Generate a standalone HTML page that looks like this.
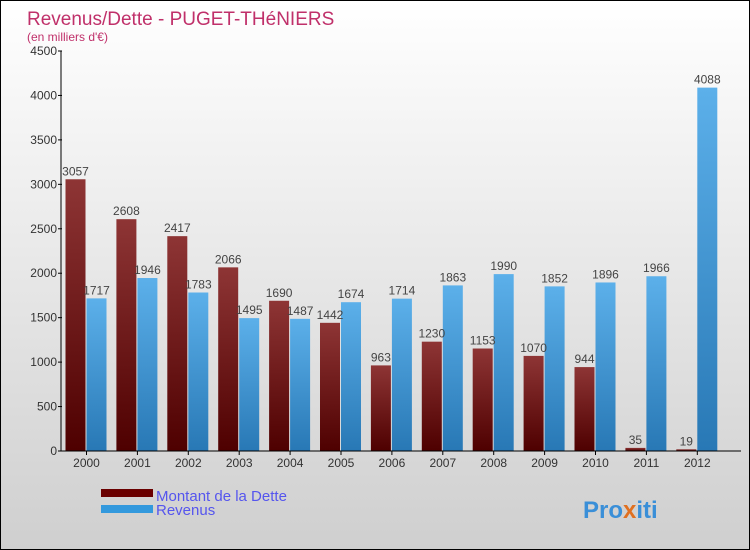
<!DOCTYPE html>
<html><head><meta charset="utf-8"><style>
body{margin:0}
#c{width:750px;height:550px;position:relative;box-sizing:border-box;border:1px solid #000;background:linear-gradient(#fff,#cfcfcf);font-family:"Liberation Sans",sans-serif;overflow:hidden}
</style></head><body>
<div id="c">
<svg id="s" width="750" height="550" style="position:absolute;left:0;top:0">
<defs>
<linearGradient id="gd" x1="0" y1="0" x2="0" y2="1"><stop offset="0" stop-color="#8e3535"/><stop offset="1" stop-color="#4e0000"/></linearGradient>
<linearGradient id="gr" x1="0" y1="0" x2="0" y2="1"><stop offset="0" stop-color="#5cb0ea"/><stop offset="1" stop-color="#2878b5"/></linearGradient>
</defs>
<text x="26" y="24" font-size="19" fill="#c0306a">Revenus/Dette - PUGET-THéNIERS</text>
<text x="26" y="40" font-size="12" fill="#c0306a">(en milliers d'€)</text>
<g id="bars"></g>
<g id="axes"></g>
<rect x="100" y="488" width="52" height="8" fill="#6a0000"/>
<rect x="100" y="504" width="52" height="8" fill="#3399dd"/>
<text x="155" y="500" font-size="15" fill="#5555ee">Montant de la Dette</text>
<text x="155" y="514" font-size="15" fill="#5555ee">Revenus</text>
<text x="582" y="517" font-size="24" font-weight="bold"><tspan fill="#3a8fd8">Pro</tspan><tspan fill="#e07020">x</tspan><tspan fill="#3a8fd8">iti</tspan></text>
</svg>
</div>
<script>
const years=["2000","2001","2002","2003","2004","2005","2006","2007","2008","2009","2010","2011","2012"];
const dette=[3057,2608,2417,2066,1690,1442,963,1230,1153,1070,944,35,19];
const revenus=[1717,1946,1783,1495,1487,1674,1714,1863,1990,1852,1896,1966,4088];
const yTicks=[0,500,1000,1500,2000,2500,3000,3500,4000,4500];
const NS="http://www.w3.org/2000/svg";
const y0=450,yMax=4500,ph=400,x0=85.5,step=50.9;
const Y=v=>y0-v/yMax*ph;
const X=i=>x0+i*step;
function mk(t,a,p){const e=document.createElementNS(NS,t);for(const k in a)e.setAttribute(k,a[k]);p.appendChild(e);return e;}
const bars=document.getElementById('bars'),axes=document.getElementById('axes');
years.forEach((yr,i)=>{
 const cx=X(i);
 let r=mk('rect',{x:cx-21,y:Y(dette[i]),width:20,height:y0-Y(dette[i]),fill:'url(#gd)'},bars);
 
 
 let r2=mk('rect',{x:cx,y:Y(revenus[i]),width:20,height:y0-Y(revenus[i]),fill:'url(#gr)'},bars);
 
 
 let t=mk('text',{x:cx-11,y:Y(dette[i])-4,'font-size':12,fill:'#444','text-anchor':'middle'},bars);t.textContent=dette[i];
 
 
 let t2=mk('text',{x:cx+10,y:Y(revenus[i])-4,'font-size':12,fill:'#444','text-anchor':'middle'},bars);t2.textContent=revenus[i];
 
 
 mk('line',{x1:cx,x2:cx,y1:y0,y2:y0+4,stroke:'#000'},axes);
 let l=mk('text',{x:cx,y:y0+16,'font-size':12,fill:'#333','text-anchor':'middle'},axes);l.textContent=yr;
 
 
});
mk('line',{x1:60,x2:60,y1:50,y2:y0,stroke:'#000'},axes);
mk('line',{x1:60,x2:740,y1:y0,y2:y0,stroke:'#000'},axes);
yTicks.forEach(v=>{
 mk('line',{x1:57,x2:61,y1:Y(v),y2:Y(v),stroke:'#000'},axes);
 let t=mk('text',{x:56,y:Y(v)+4,'font-size':12,fill:'#333','text-anchor':'end'},axes);t.textContent=v;
 
 
});
</script>
</body></html>
